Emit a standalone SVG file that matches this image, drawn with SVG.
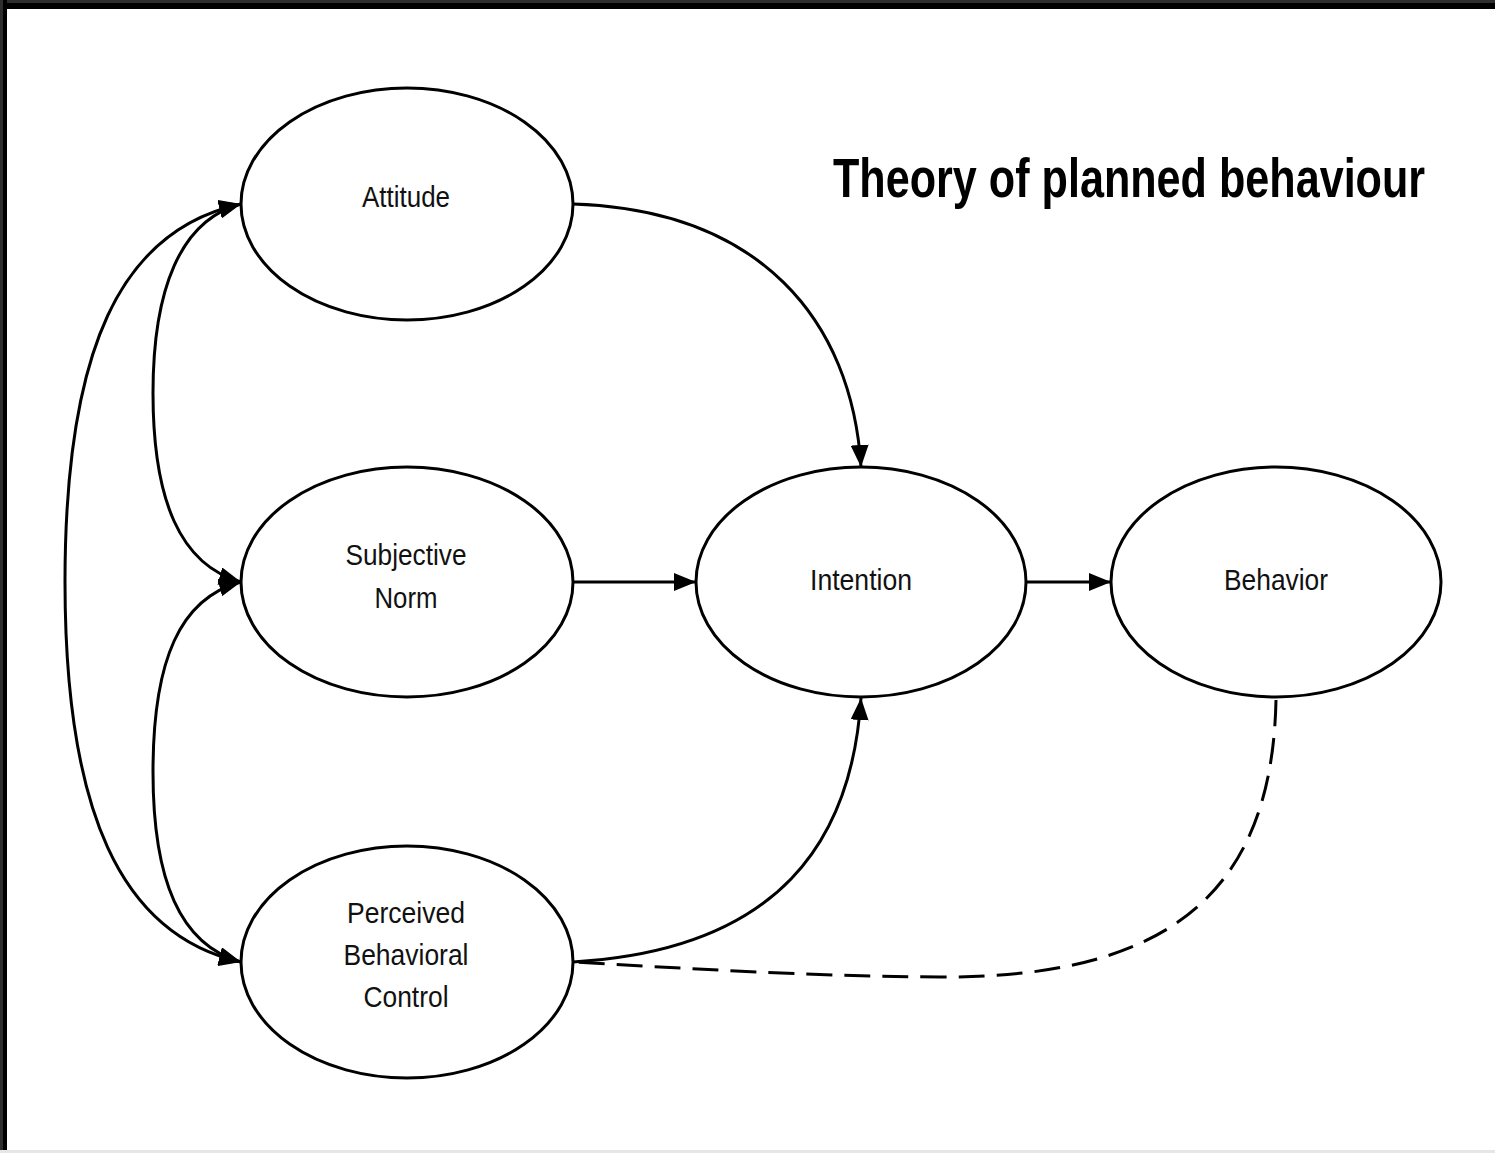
<svg xmlns="http://www.w3.org/2000/svg" width="1495" height="1153" viewBox="0 0 1495 1153">
<style>
.n{fill:#fff;stroke:#000;stroke-width:3}
.t{font-family:"Liberation Sans",Arial,sans-serif;font-size:29px;fill:#111;text-anchor:middle}
.c{fill:none;stroke:#000;stroke-width:3}
.d{fill:none;stroke:#000;stroke-width:3;stroke-dasharray:26 12}
</style>
<defs>
<marker id="ah" markerUnits="userSpaceOnUse" markerWidth="24" markerHeight="18" refX="22" refY="9" orient="auto">
<path d="M0,0 L22,9 L0,18 Z" fill="#000"/>
</marker>
<marker id="as" markerUnits="userSpaceOnUse" markerWidth="24" markerHeight="18" refX="22" refY="9" orient="auto-start-reverse">
<path d="M0,0 L22,9 L0,18 Z" fill="#000"/>
</marker>
</defs>
<rect x="0" y="0" width="1495" height="1153" fill="#fff"/>
<rect x="0" y="0" width="1495" height="4" fill="#2e2e2e"/>
<rect x="0" y="3" width="1495" height="6" fill="#000"/>
<rect x="0" y="0" width="3" height="1153" fill="#2e2e2e"/>
<rect x="3" y="0" width="4" height="1153" fill="#000"/>
<rect x="0" y="1150" width="1495" height="3" fill="#e6e6e6"/>
<text transform="translate(833,197) scale(0.77,1)" x="0" y="0" font-family="'Liberation Sans',Arial,sans-serif" font-weight="bold" font-size="56" textLength="769" lengthAdjust="spacingAndGlyphs" fill="#000">Theory of planned behaviour</text>
<g id="connectors">
<path class="c" d="M573,204 C760,210 852,320 861,467" marker-end="url(#ah)"/>
<path class="c" d="M573,582 L696,582" marker-end="url(#ah)"/>
<path class="c" d="M1026,582 L1111,582" marker-end="url(#ah)"/>
<path class="c" d="M573,962 C780,950 852,840 861,698" marker-end="url(#ah)"/>
<path class="d" d="M1276,700 C1272,900 1160,978 940,977 C800,976 680,968 573,962"/>
<path class="c" d="M241,204 C120,230 65,350 65,582 C65,810 120,935 241,962" marker-start="url(#as)" marker-end="url(#ah)"/>
<path class="c" d="M241,204 C180,220 153,290 153,393 C153,500 180,565 241,582" marker-start="url(#as)" marker-end="url(#ah)"/>
<path class="c" d="M241,582 C180,598 153,660 153,772 C153,880 180,945 241,962" marker-start="url(#as)" marker-end="url(#ah)"/>
</g>
<g id="attitude">
<ellipse class="n" cx="407" cy="204" rx="166" ry="116"/>
<text class="t" x="406" y="207" textLength="88" lengthAdjust="spacingAndGlyphs">Attitude</text>
</g>
<g id="subjective-norm">
<ellipse class="n" cx="407" cy="582" rx="166" ry="115"/>
<text class="t" x="406" y="565" textLength="121" lengthAdjust="spacingAndGlyphs">Subjective</text>
<text class="t" x="406" y="608" textLength="63" lengthAdjust="spacingAndGlyphs">Norm</text>
</g>
<g id="pbc">
<ellipse class="n" cx="407" cy="962" rx="166" ry="116"/>
<text class="t" x="406" y="923" textLength="118" lengthAdjust="spacingAndGlyphs">Perceived</text>
<text class="t" x="406" y="965" textLength="125" lengthAdjust="spacingAndGlyphs">Behavioral</text>
<text class="t" x="406" y="1007" textLength="85" lengthAdjust="spacingAndGlyphs">Control</text>
</g>
<g id="intention">
<ellipse class="n" cx="861" cy="582" rx="165" ry="115"/>
<text class="t" x="861" y="590" textLength="102" lengthAdjust="spacingAndGlyphs">Intention</text>
</g>
<g id="behavior">
<ellipse class="n" cx="1276" cy="582" rx="165" ry="115"/>
<text class="t" x="1276" y="590" textLength="104" lengthAdjust="spacingAndGlyphs">Behavior</text>
</g>
</svg>
